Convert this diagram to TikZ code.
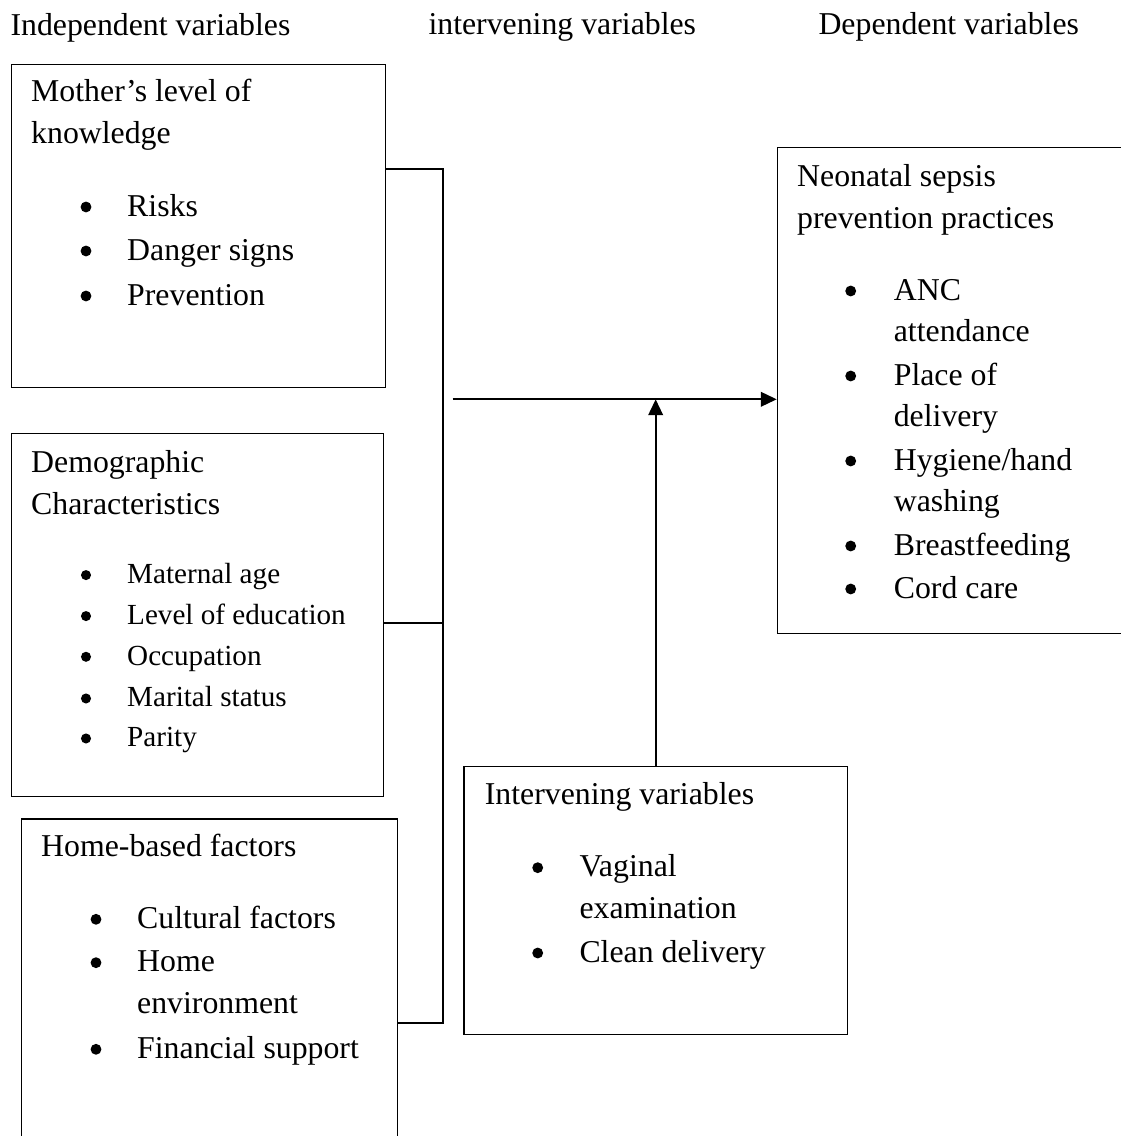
\documentclass[tikz,border=0pt]{standalone}
\usepackage{fontspec}
\setmainfont{Liberation Serif}
\usetikzlibrary{arrows.meta}
\newcommand\pxu{0.3774pt}
\begin{document}
\begin{tikzpicture}[x=0.3774pt,y=-0.3774pt,
  box/.style={draw, line width=0.5pt, inner sep=0pt, anchor=north west},
  conn/.style={line width=0.8pt},
  arr/.style={conn, -{Triangle[length=6pt,width=5.5pt]}},
  txt/.style={anchor=base west, inner sep=0pt, font=\fontsize{12}{14}\selectfont},
  stxt/.style={anchor=base west, inner sep=0pt, font=\fontsize{11}{13}\selectfont},
  bul/.style={circle, fill=black, draw=none, inner sep=0pt, minimum size=4.1pt, anchor=center, yshift=3.4pt},
  sbul/.style={circle, fill=black, draw=none, inner sep=0pt, minimum size=3.8pt, anchor=center, yshift=3.1pt}]
\useasboundingbox (0,0) rectangle (1121,1136);
\clip (0,0) rectangle (1121,1136);

% headers
\node[txt] (h-ind) at (10,35) {Independent variables};
\node[txt] (h-int) at (428,34) {intervening variables};
\node[txt] (h-dep) at (818,34) {Dependent variables};

% boxes
\node[box, minimum width=374.5*\pxu, minimum height=323*\pxu] (mk) at (10.5,63.5) {};
\node[box, minimum width=371.7*\pxu, minimum height=362.7*\pxu] (dm) at (11,433) {};
\node[box, minimum width=376*\pxu, minimum height=360*\pxu] (hb) at (20.7,818.3) {};
\node[box, minimum width=380*\pxu, minimum height=486*\pxu] (nsp) at (776.7,146.7) {};
\node[box, minimum width=383.4*\pxu, minimum height=268*\pxu] (iv) at (463.3,766) {};

% Mother's level of knowledge
\node[txt] (m1) at (30.7,101.7) {Mother’s level of};
\node[txt] (m2) at (30.7,143.3) {knowledge};
\node[bul] (mb1) at (86,216) {};
\node[txt] (mt1) at (126.7,216) {Risks};
\node[bul] (mb2) at (86,260) {};
\node[txt] (mt2) at (126.7,260) {Danger signs};
\node[bul] (mb3) at (86,305) {};
\node[txt] (mt3) at (126.7,305) {Prevention};

% Demographic
\node[txt] (d1) at (30.7,472.7) {Demographic};
\node[txt] (d2) at (30.7,514.3) {Characteristics};
\node[sbul] (db1) at (86,583.3) {};
\node[stxt] (dt1) at (126.7,583.3) {Maternal age};
\node[sbul] (db2) at (86,624.3) {};
\node[stxt] (dt2) at (126.7,624.3) {Level of education};
\node[sbul] (db3) at (86,665) {};
\node[stxt] (dt3) at (126.7,665) {Occupation};
\node[sbul] (db4) at (86,706.7) {};
\node[stxt] (dt4) at (126.7,706.7) {Marital status};
\node[sbul] (db5) at (86,746.7) {};
\node[stxt] (dt5) at (126.7,746.7) {Parity};

% Home-based
\node[txt] (hh1) at (40.7,856.7) {Home-based factors};
\node[bul] (hbb1) at (96,928.3) {};
\node[txt] (ht1) at (136.7,928.3) {Cultural factors};
\node[bul] (hbb2) at (96,971.7) {};
\node[txt] (ht2) at (136.7,971.7) {Home};
\node[txt] (ht2b) at (136.7,1013.3) {environment};
\node[bul] (hbb3) at (96,1058.3) {};
\node[txt] (ht3) at (136.7,1058.3) {Financial support};

% Neonatal sepsis
\node[txt] (n1) at (796.7,186.7) {Neonatal sepsis};
\node[txt] (n2) at (796.7,228.3) {prevention practices};
\node[bul] (nb1) at (850.7,300) {};
\node[txt] (nt1) at (893.3,300) {ANC};
\node[txt] (nt1b) at (893.3,341.7) {attendance};
\node[bul] (nb2) at (850.7,385) {};
\node[txt] (nt2) at (893.3,385) {Place of};
\node[txt] (nt2b) at (893.3,426) {delivery};
\node[bul] (nb3) at (850.7,470) {};
\node[txt] (nt3) at (893.3,470) {Hygiene/hand};
\node[txt] (nt3b) at (893.3,511) {washing};
\node[bul] (nb4) at (850.7,555) {};
\node[txt] (nt4) at (893.3,555) {Breastfeeding};
\node[bul] (nb5) at (850.7,598) {};
\node[txt] (nt5) at (893.3,598) {Cord care};

% Intervening
\node[txt] (i1) at (484.3,804.3) {Intervening variables};
\node[bul] (ib1) at (537.7,876.7) {};
\node[txt] (it1) at (579,876.7) {Vaginal};
\node[txt] (it1b) at (579,918) {examination};
\node[bul] (ib2) at (537.7,962) {};
\node[txt] (it2) at (579,962) {Clean delivery};

% connectors
\coordinate (btop) at (442.7,169.3);
\coordinate (bmid) at (442.7,623.3);
\coordinate (bbot) at (442.7,1023.3);
\coordinate (astart) at (452.7,399.3);
\draw[conn] (mk.east |- btop) -- (btop) -- (bbot) -- (hb.east |- bbot);
\draw[conn] (dm.east |- bmid) -- (bmid);
\draw[arr] (astart) -- (nsp.west |- astart);
\draw[arr] (iv.north) -- (iv.north |- astart);
\end{tikzpicture}
\end{document}
